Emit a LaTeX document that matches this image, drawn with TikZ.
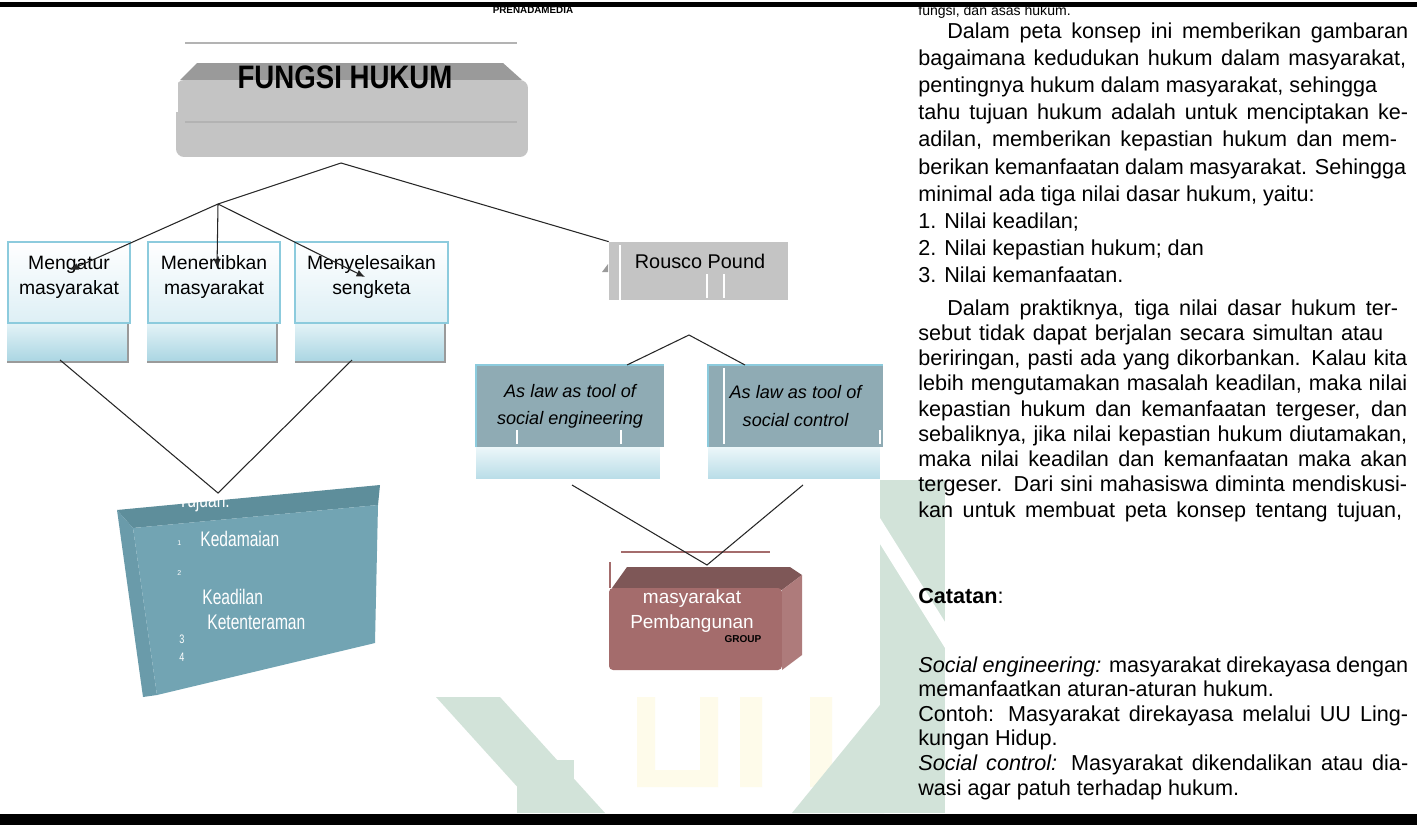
\documentclass[tikz,border=0pt]{standalone}
\usepackage{graphicx}
\usepackage{fontspec}
\setmainfont{Liberation Sans}
\usetikzlibrary{arrows.meta}

\definecolor{abu}{HTML}{C4C4C4}
\definecolor{abutua}{HTML}{9A9A9A}
\definecolor{garisabu}{HTML}{B3B3B3}
\definecolor{birugaris}{HTML}{8CCBDD}
\definecolor{birupudar}{HTML}{DDEFF5}
\definecolor{birupucat}{HTML}{E4F3F7}
\definecolor{birualas}{HTML}{A9D5E2}
\definecolor{tealabu}{HTML}{8FABB4}
\definecolor{tujuandepan}{HTML}{72A4B3}
\definecolor{tujuanatas}{HTML}{5E8E9B}
\definecolor{tujuankiri}{HTML}{6A9BAA}
\definecolor{merahdepan}{HTML}{A46C6C}
\definecolor{merahatas}{HTML}{7E5757}
\definecolor{merahkanan}{HTML}{AE7B7B}
\definecolor{hijaupudar}{HTML}{D2E3D9}
\definecolor{kuningpudar}{HTML}{FEFBEA}

\newcommand{\rata}[2]{\makebox[#1][s]{#2}}
\newcommand{\sempit}[1]{\scalebox{0.74}[1]{#1}}

\begin{document}
\begin{tikzpicture}[x=0.02cm,y=-0.02cm]
	\tikzstyle{teks}=[inner sep=0pt, anchor=base west, font=\fontsize{12.3}{14}\selectfont]
	\tikzstyle{fungsi}=[rectangle, draw=birugaris, line width=1.6pt, minimum height=1.62cm, align=center, text depth=0.3cm, top color=white, bottom color=birupudar, font=\fontsize{11}{14.2}\selectfont]
	\tikzstyle{alas}=[rectangle, top color=birupucat, bottom color=birualas]
	\tikzstyle{teori}=[rectangle, fill=tealabu, minimum height=1.64cm, align=center, font=\fontsize{10.3}{15.4}\selectfont\itshape]
	\tikzstyle{putih}=[text=white, inner sep=0pt, anchor=base west, font=\fontsize{12}{14}\selectfont]
	\tikzstyle{garis}=[black!85, line width=0.6pt]
	\tikzstyle{panah}=[garis, -{Latex[length=0.17cm,width=0.14cm]}]

	\useasboundingbox (0,0) rectangle (1417,825);
	\fill[white] (0,0) rectangle (1417,825);

	% watermark
	\fill[kuningpudar] (637,697) rectangle (655,787) (637,770) rectangle (718,787) (700,697) rectangle (718,787)
		(740,697) rectangle (762,787) (810,697) rectangle (832,787);
	\fill[hijaupudar] (436,697) -- (500,697) -- (605,813) -- (541,813) -- cycle;
	\fill[hijaupudar] (517,760) rectangle (574,813);
	\fill[hijaupudar] (792,813) -- (884,700) -- (884,813) -- cycle;
	\fill[hijaupudar] (880,480) rectangle (945,813);
	\fill[white] (880,518) -- (945,622) -- (945,648) -- (880,544) -- cycle;

	% garis halaman
	\fill[black] (0,2) rectangle (1417,6.5);
	\fill[black] (0,814) rectangle (1417,825);
	\node[anchor=base, inner sep=0pt, font=\fontsize{5.6}{6}\selectfont\bfseries] (penerbit) at (533,13) {PRENADAMEDIA};

	% judul
	\draw[garisabu, line width=1.4pt] (185,43) -- (517,43);
	\fill[abutua] (180,80) -- (197,63) -- (503,63) -- (522,80) -- cycle;
	\node[rectangle, rounded corners=0.16cm, fill=abu, minimum width=7.04cm, minimum height=1.54cm] (fungsihukum) at (352,118.5) {};
	\draw[garisabu, line width=1.2pt] (185,122) -- (517,122);
	\draw[white, line width=0.8pt] (177,52) -- (177,112);
	\node[anchor=base, inner sep=0pt, font=\fontsize{18.5}{20}\selectfont\bfseries] (judul) at (345,88) {\scalebox{0.85}[1]{FUNGSI HUKUM}};

	% fungsi hukum
	\node[alas, minimum width=2.42cm, minimum height=0.78cm] (atur2) at (67.5,342.5) {};
	\node[alas, minimum width=2.6cm, minimum height=0.78cm] (tertib2) at (212,342.5) {};
	\node[alas, minimum width=3cm, minimum height=0.78cm] (selesai2) at (370,342.5) {};
	\draw[abutua, line width=1pt] (atur2.north east) -- (atur2.south east) -- (atur2.south west)
		(tertib2.north east) -- (tertib2.south east) -- (tertib2.south west)
		(selesai2.north east) -- (selesai2.south east) -- (selesai2.south west);
	\node[fungsi, minimum width=2.44cm] (atur) at (69,282.5) {Mengatur\\masyarakat};
	\node[fungsi, minimum width=2.64cm] (tertib) at (214,282.5) {Menertibkan\\masyarakat};
	\node[fungsi, minimum width=3.06cm] (selesai) at (371.5,282.5) {Menyelesaikan\\sengketa};

	% rousco pound
	\fill[abutua] (602,272) -- (608,264) -- (608,272) -- cycle;
	\node[rectangle, fill=abu, minimum width=3.58cm, minimum height=1.16cm] (rousco) at (698.5,271) {};
	\draw[white, line width=0.6pt] (620,245) -- (620,300) (707,274) -- (707,298) (724,274) -- (724,298);
	\node[anchor=base, inner sep=0pt, font=\fontsize{11.3}{13}\selectfont] (rouscoteks) at (700,268) {Rousco Pound};

	\node[alas, top color=birupucat!70, bottom color=birualas!80, minimum width=3.68cm, minimum height=0.62cm] (alasA) at (568,462.5) {};
	\node[alas, top color=birupucat!70, bottom color=birualas!80, minimum width=3.44cm, minimum height=0.62cm] (alasB) at (794,462.5) {};
	\node[teori, minimum width=3.76cm] (hukumA) at (570,406) {As law as tool of\\social engineering};
	\node[teori, minimum width=3.5cm] (hukumB) at (795.5,406) {As law as tool of\\social control};
	\draw[birugaris, line width=1.1pt] (hukumA.south west) -- (hukumA.north west) -- (hukumA.north east)
		(hukumB.south west) -- (hukumB.north west) -- (hukumB.north east);
	\draw[white, line width=0.6pt] (517,430) -- (517,444) (621,430) -- (621,444) (724,368) -- (724,444) (880,430) -- (880,444);

	% tujuan
	\fill[tujuanatas] (117,510) -- (380,485) -- (378,505) -- (133,528) -- cycle;
	\fill[tujuankiri] (117,510) -- (133,528) -- (157,695) -- (143,697) -- cycle;
	\fill[tujuandepan] (133,528) -- (378,505) -- (375,643) -- (157,695) -- cycle;
	\node[putih] (tujuan) at (178,507) {\sempit{Tujuan:}};
	\node[putih, font=\fontsize{4}{4}\selectfont] (no1) at (177,545) {1};
	\node[putih] (damai) at (200,546) {\sempit{Kedamaian}};
	\node[putih, font=\fontsize{4}{4}\selectfont] (no2) at (177,575) {2};
	\node[putih] (adil) at (202,604) {\sempit{Keadilan}};
	\node[putih] (tenteram) at (207,629) {\sempit{Ketenteraman}};
	\node[putih, font=\fontsize{7}{7}\selectfont] (no3) at (179,643) {\sempit{3}};
	\node[putih, font=\fontsize{7}{7}\selectfont] (no4) at (179,661) {\sempit{4}};

	% masyarakat pembangunan
	\draw[merahdepan, line width=1.5pt] (621,552) -- (770,552);
	\draw[merahdepan, line width=1pt] (610,562) -- (610,588);
	\fill[merahatas] (612,588) -- (627,567) -- (790,567) -- (802,575) -- (782,590) -- cycle;
	\fill[merahkanan] (782,590) -- (802,575) -- (802,655) -- (782,670) -- cycle;
	\node[rectangle, rounded corners=0.08cm, fill=merahdepan, minimum width=3.46cm, minimum height=1.64cm] (masy) at (695.5,629) {};
	\node[anchor=base, inner sep=0pt, text=white, font=\fontsize{10.8}{13}\selectfont] (masyteks) at (692,603) {masyarakat};
	\node[anchor=base, inner sep=0pt, text=white, font=\fontsize{10.8}{13}\selectfont] (bangun) at (692,628) {Pembangunan};
	\node[anchor=base, inner sep=0pt, font=\fontsize{5.7}{6}\selectfont\bfseries] (group) at (743,642) {GROUP};

	% penghubung
	\coordinate (puncak) at (341,163);
	\coordinate (cabang) at (218,204);
	\coordinate (u1) at (70,270);
	\coordinate (u2) at (217,268);
	\coordinate (u3) at (365,277);
	\coordinate (kaki1) at (60,360);
	\coordinate (kaki2) at (352,360);
	\coordinate (puncakT) at (218,493);
	\coordinate (puncakR) at (689,335);
	\coordinate (ujungA) at (627,365);
	\coordinate (ujungB) at (745,365);
	\coordinate (kakiA) at (572,485);
	\coordinate (kakiB) at (803,485);
	\coordinate (puncakM) at (707,565);

	\draw[garis] (puncak) -- (cabang);
	\draw[garis] (puncak) -- (rousco.north west);
	\draw[panah] (cabang) -- (u1);
	\draw[panah] (cabang) -- (u2);
	\draw[panah] (cabang) -- (u3);
	\draw[garis] (kaki1) -- (puncakT) -- (kaki2);
	\draw[garis] (ujungA) -- (puncakR) -- (ujungB);
	\draw[garis] (kakiA) -- (puncakM) -- (kakiB);

	% teks kanan
	\node[inner sep=0pt, anchor=base west, font=\fontsize{8}{9}\selectfont] (awal) at (918,15) {fungsi, dan asas hukum.};
	\foreach \y/\isi [count=\i] in {
		38/{\hspace*{0.58cm}\rata{9.22cm}{Dalam peta konsep ini memberikan gambaran}},
		65.2/{\rata{9.76cm}{bagaimana kedudukan hukum dalam masyarakat,}},
		92.4/{pentingnya hukum dalam masyarakat, sehingga},
		119.6/{\rata{9.8cm}{tahu tujuan hukum adalah untuk menciptakan ke-}},
		146.8/{\rata{9.58cm}{adilan, memberikan kepastian hukum dan mem-}},
		174/{\rata{9.76cm}{berikan kemanfaatan dalam masyarakat. Sehingga}},
		201.2/{minimal ada tiga nilai dasar hukum, yaitu:},
		228.4/{1. Nilai keadilan;},
		255.6/{2. Nilai kepastian hukum; dan},
		282.8/{3. Nilai kemanfaatan.}}
		\node[teks] (pa\i) at (918,\y) {\isi};
	\foreach \y/\isi [count=\i] in {
		315/{\hspace*{0.58cm}\rata{9.02cm}{Dalam praktiknya, tiga nilai dasar hukum ter-}},
		340.25/{\rata{9.3cm}{sebut tidak dapat berjalan secara simultan atau}},
		365.5/{\rata{9.78cm}{beriringan, pasti ada yang dikorbankan. Kalau kita}},
		390.75/{\rata{9.78cm}{lebih mengutamakan masalah keadilan, maka nilai}},
		416/{\rata{9.78cm}{kepastian hukum dan kemanfaatan tergeser, dan}},
		441.25/{\rata{9.78cm}{sebaliknya, jika nilai kepastian hukum diutamakan,}},
		466.5/{\rata{9.78cm}{maka nilai keadilan dan kemanfaatan maka akan}},
		491.75/{\rata{9.78cm}{tergeser. Dari sini mahasiswa diminta mendiskusi-}},
		517/{\rata{9.68cm}{kan untuk membuat peta konsep tentang tujuan,}}}
		\node[teks] (pb\i) at (918,\y) {\isi};
	\node[teks] (catatan) at (918,603) {\textbf{Catatan}:};
	\foreach \y/\isi [count=\i] in {
		672/{\rata{9.8cm}{\textit{Social engineering:} masyarakat direkayasa dengan}},
		696.6/{memanfaatkan aturan-aturan hukum.},
		721.2/{\rata{9.8cm}{Contoh: Masyarakat direkayasa melalui UU Ling-}},
		745.8/{kungan Hidup.},
		770.4/{\rata{9.8cm}{\textit{Social control:} Masyarakat dikendalikan atau dia-}},
		795/{wasi agar patuh terhadap hukum.}}
		\node[teks] (pc\i) at (918,\y) {\isi};
\end{tikzpicture}
\end{document}
